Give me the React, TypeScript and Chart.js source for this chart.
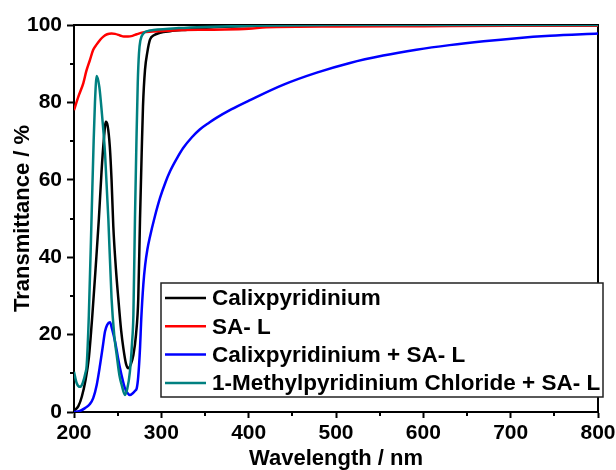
import React, { useEffect, useRef } from "react";
import { Chart, registerables } from "chart.js";

Chart.register(...registerables);

// ---- Data ----
const seriesLabels = [
  "Calixpyridinium",
  "SA- L",
  "Calixpyridinium + SA- L",
  "1-Methylpyridinium Chloride + SA- L",
];
const seriesColors = ["#000000", "#ff0000", "#0000ff", "#008080"];

const calixWl = [200, 205, 209, 213, 217, 221, 225, 228.5, 231.5, 234, 236.5, 238.5, 241, 243, 245, 248, 250.7, 254, 256.5, 259.5, 262.2, 265, 268, 271, 273.6, 275.6, 277.5, 279, 281.3, 284, 287, 292, 298.5, 310, 330, 360, 400, 450, 500, 600, 700, 800];
const calixT = [0.3, 1.5, 4, 8, 14, 25, 38, 50, 62, 70, 75, 74, 68.6, 60, 48, 37, 29.4, 21, 16.5, 12.5, 11.3, 12.3, 14.7, 20, 29.4, 50, 67, 79, 88.4, 93, 96.2, 97.4, 98, 98.4, 98.8, 99.4, 99.7, 99.9, 100, 100, 100, 100];

const salWl = [200, 205, 210.7, 214, 218.3, 222, 226, 230, 233.6, 238, 243, 247, 252.7, 257, 262, 267, 271.8, 279, 290, 313, 360, 400, 420, 500, 600, 700, 800];
const salT = [78, 81.5, 85, 88, 91, 93.6, 95, 96.2, 97, 97.6, 97.8, 97.7, 97.3, 97, 97, 97.2, 97.6, 98.1, 98.3, 98.6, 98.8, 99.0, 99.4, 99.6, 99.7, 99.8, 99.8];

const complexWl = [200, 206, 212.6, 218, 222, 226, 229.8, 233, 235.5, 238, 241.2, 243.5, 247, 250, 252.7, 255.5, 258.4, 261, 264, 267, 270, 271.8, 273.5, 275.6, 277, 279.4, 281.5, 284, 287, 292, 298.5, 305, 310, 318, 325, 335, 344, 355, 363, 380, 401.5, 440, 478, 516, 554, 592, 630, 669, 707, 745, 800];
const complexT = [0, 0.2, 1, 2, 3.6, 7, 12.1, 17, 20.8, 22.5, 23.2, 21.5, 18.2, 14.5, 11.3, 8.5, 6.1, 5, 4.4, 4.8, 5.5, 6.1, 9, 16.5, 24, 33, 38, 42, 45.3, 50, 55.3, 59.5, 62.2, 65.6, 68.2, 71, 73, 74.8, 76, 78.2, 80.6, 84.6, 87.7, 90.2, 92.1, 93.6, 94.8, 95.8, 96.6, 97.2, 97.8];

const methylWl = [200, 203, 206.9, 210, 213, 214.5, 217, 220.2, 222.5, 224, 226, 229, 232, 235.5, 239.3, 243, 246, 248.9, 252, 254.6, 258.4, 261, 264, 266.5, 268, 269.8, 271.5, 273, 274.4, 276, 279.4, 285, 290.8, 320, 350, 400, 500, 600, 700, 800];
const methylT = [10.4, 7.5, 6.5, 7.5, 10, 12, 25, 51, 70, 80, 86.8, 84, 77, 67, 50, 29.4, 20, 14.7, 9.5, 7, 4.4, 6, 10.4, 18, 25, 50, 70, 85, 92.7, 96, 97.8, 98.5, 98.7, 99.2, 99.5, 99.8, 100, 100, 100, 100];

const xTickValues = [200, 300, 400, 500, 600, 700, 800];
const xMinorTicks = [250, 350, 450, 550, 650, 750];
const yTickValues = [0, 20, 40, 60, 80, 100];
const yMinorTicks = [10, 30, 50, 70, 90];

const seriesWl = [calixWl, salWl, complexWl, methylWl];
const seriesT = [calixT, salT, complexT, methylT];
const drawOrder = [3, 2, 1, 0];

const FONT = "'Liberation Sans', Arial, sans-serif";

const framePlugin = {
  id: "frame",
  beforeDatasetsDraw(chart: any) {
    const { ctx, chartArea } = chart;
    const xs = chart.scales.x;
    const ys = chart.scales.y;
    ctx.save();
    ctx.strokeStyle = "#000";
    ctx.lineWidth = 2;
    ctx.beginPath();
    ctx.moveTo(chartArea.left, chartArea.top);
    ctx.lineTo(chartArea.right, chartArea.top);
    ctx.lineTo(chartArea.right, chartArea.bottom);
    ctx.stroke();
    ctx.lineWidth = 2;
    ctx.beginPath();
    for (const v of xMinorTicks) {
      const px = Math.round(xs.getPixelForValue(v));
      ctx.moveTo(px, chartArea.bottom);
      ctx.lineTo(px, chartArea.bottom + 4);
    }
    for (const v of yMinorTicks) {
      const py = Math.round(ys.getPixelForValue(v));
      ctx.moveTo(chartArea.left, py);
      ctx.lineTo(chartArea.left - 4, py);
    }
    ctx.stroke();
    ctx.restore();
  },
};

const legendPlugin = {
  id: "innerLegend",
  afterDraw(chart: any) {
    const { ctx, chartArea } = chart;
    const left = chartArea.left + 87;
    const top = chartArea.top + 258;
    const w = 442;
    const h = 114;
    ctx.save();
    ctx.fillStyle = "#fff";
    ctx.fillRect(left, top, w, h);
    ctx.strokeStyle = "#222";
    ctx.lineWidth = 1.5;
    ctx.strokeRect(left, top, w, h);
    ctx.font = `bold 22.5px ${FONT}`;
    ctx.textBaseline = "middle";
    ctx.textAlign = "left";
    chart.data.datasets.forEach((ds: any, i: number) => {
      const y = top + 15 + i * 28.3;
      ctx.strokeStyle = ds.borderColor;
      ctx.lineWidth = 2.5;
      ctx.beginPath();
      ctx.moveTo(left + 4, y);
      ctx.lineTo(left + 45, y);
      ctx.stroke();
      ctx.fillStyle = "#000";
      ctx.fillText(ds.label, left + 51, y + 1);
    });
    ctx.restore();
  },
};

export default function App() {
  const canvasRef = useRef<HTMLCanvasElement>(null);

  useEffect(() => {
    document.body.style.margin = "0";
    const canvas = canvasRef.current;
    if (!canvas) return;
    const datasets = seriesLabels.map((label, i) => ({
      label,
      data: seriesWl[i].map((x, j) => ({ x, y: seriesT[i][j] })),
      borderColor: seriesColors[i],
      backgroundColor: seriesColors[i],
      borderWidth: 2.5,
      pointRadius: 0,
      fill: false,
      cubicInterpolationMode: "monotone" as const,
      order: drawOrder[i],
    }));

    const chart = new Chart(canvas, {
      type: "line",
      data: { datasets },
      options: {
        animation: false,
        responsive: false,
        devicePixelRatio: 1,
        layout: { padding: { left: 0, right: 18, top: 25, bottom: 0 } },
        plugins: {
          legend: { display: false },
          tooltip: { enabled: false },
        },
        scales: {
          x: {
            type: "linear",
            min: 200,
            max: 800,
            afterBuildTicks: (scale: any) => {
              scale.ticks = xTickValues.map((v) => ({ value: v }));
            },
            afterFit: (scale: any) => {
              scale.height = 58;
              scale.paddingLeft = 0;
              scale.paddingRight = 0;
            },
            ticks: {
              color: "#000",
              font: { family: FONT, size: 21, weight: "bold" },
              padding: 3,
              maxRotation: 0,
              autoSkip: false,
            },
            grid: {
              drawOnChartArea: false,
              drawTicks: true,
              tickLength: 6,
              tickWidth: 2,
              tickColor: "#000",
            },
            border: { display: true, color: "#000", width: 2 },
            title: {
              display: true,
              text: "Wavelength / nm",
              color: "#000",
              font: { family: FONT, size: 22, weight: "bold", lineHeight: 1.0 },
              padding: { top: 0, bottom: 0 },
            },
          },
          y: {
            type: "linear",
            min: 0,
            max: 100,
            afterBuildTicks: (scale: any) => {
              scale.ticks = yTickValues.map((v) => ({ value: v }));
            },
            afterFit: (scale: any) => {
              scale.width = 74;
              scale.paddingTop = 0;
              scale.paddingBottom = 0;
            },
            ticks: {
              color: "#000",
              font: { family: FONT, size: 21, weight: "bold" },
              padding: 5,
              autoSkip: false,
            },
            grid: {
              drawOnChartArea: false,
              drawTicks: true,
              tickLength: 7,
              tickWidth: 2,
              tickColor: "#000",
            },
            border: { display: true, color: "#000", width: 2 },
            title: {
              display: true,
              text: "Transmittance / %",
              color: "#000",
              font: { family: FONT, size: 22, weight: "bold" },
              padding: { top: 10, bottom: 0 },
            },
          },
        },
      },
      plugins: [framePlugin, legendPlugin],
    });
    return () => chart.destroy();
  }, []);

  return (
    <div style={{ width: 616, height: 470 }}>
      <canvas ref={canvasRef} width={616} height={470} style={{ display: "block" }} />
    </div>
  );
}
